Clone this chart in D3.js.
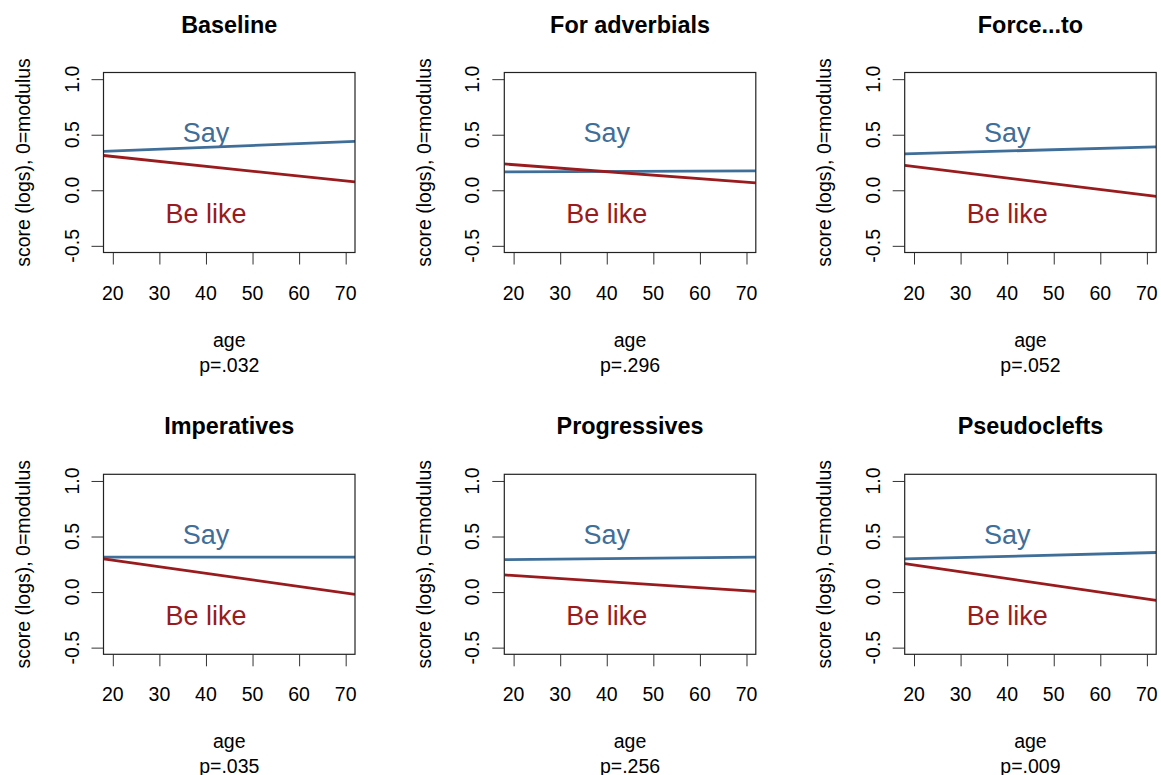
<!DOCTYPE html>
<html lang="en">
<head>
    <meta charset="UTF-8">
    <title>Say vs Be like by age</title>
    <style>
        body { margin: 0; background: #fff; }
        #chart { font-family: "Liberation Sans", Arial, sans-serif; }
    </style>
    <script src="https://d3js.org/d3.v7.min.js"></script>
</head>
<body>
    <div id="chart"></div>
    <script>
// panel data: fitted value at the left (age 18) and right (age 72) edges
const panelTitles = ["Baseline", "For adverbials", "Force...to", "Imperatives", "Progressives", "Pseudoclefts"];
const pValues = ["p=.032", "p=.296", "p=.052", "p=.035", "p=.256", "p=.009"];
const ageEnds = [18, 72];
const sayStart = [0.35, 0.165, 0.328, 0.315, 0.292, 0.298];
const sayEnd = [0.44, 0.175, 0.391, 0.315, 0.315, 0.356];
const likeStart = [0.313, 0.237, 0.224, 0.298, 0.154, 0.256];
const likeEnd = [0.075, 0.066, -0.054, -0.021, 0.006, -0.075];
const xTicks = [20, 30, 40, 50, 60, 70];
const yTicks = [-0.5, 0, 0.5, 1.0];
const yTickLabels = ["-0.5", "0.0", "0.5", "1.0"];
const seriesNames = ["Say", "Be like"];
const labelAge = 40;
const labelValues = [0.52, -0.21];

const colors = {say: "#3f6e98", like: "#991b1e"};

const W = 1161, H = 775;
const colLeft = [103.5, 504.3, 904.7];
const rowTop = [72.5, 474.3];
const pw = 251.5, ph = 180;

const svg = d3.select("#chart").append("svg")
    .attr("width", W).attr("height", H);

const x = d3.scaleLinear().domain([18, 72]).range([0, pw]);
const y = d3.scaleLinear().domain([-0.56, 1.06]).range([ph, 0]);

const line = d3.line().x(d => x(d[0])).y(d => y(d[1]));

panelTitles.forEach((title, i) => {
    const g = svg.append("g")
        .attr("transform", "translate(" + colLeft[i % 3] + "," + rowTop[Math.floor(i / 3)] + ")");

    g.append("clipPath").attr("id", "clip" + i)
        .append("rect").attr("width", pw).attr("height", ph);

    // x axis
    const xa = g.append("g")
        .attr("transform", "translate(0," + ph + ")")
        .call(d3.axisBottom(x).tickValues(xTicks).tickSize(12).tickSizeOuter(0).tickFormat(""));
    xa.select(".domain").remove();
    xa.selectAll("line").attr("stroke", "#333");

    // y axis
    const ya = g.append("g")
        .call(d3.axisLeft(y).tickValues(yTicks).tickSize(12).tickSizeOuter(0).tickFormat(""));
    ya.select(".domain").remove();
    ya.selectAll("line").attr("stroke", "#333");

    g.selectAll(".xlab").data(xTicks).enter().append("text")
        .attr("x", d => x(d)).attr("y", ph + 47)
        .attr("text-anchor", "middle")
        .style("font-size", "19.5px")
        .text(d => d);

    g.selectAll(".ylab").data(yTicks).enter().append("text")
        .attr("transform", d => "translate(-25," + y(d) + ") rotate(-90)")
        .attr("text-anchor", "middle")
        .style("font-size", "19.5px")
        .text((d, k) => yTickLabels[k]);

    // series lines
    const series = [
        {key: "say", pts: [[ageEnds[0], sayStart[i]], [ageEnds[1], sayEnd[i]]]},
        {key: "like", pts: [[ageEnds[0], likeStart[i]], [ageEnds[1], likeEnd[i]]]}
    ];
    g.append("g").attr("clip-path", "url(#clip" + i + ")")
        .selectAll("path").data(series).enter().append("path")
        .attr("d", d => line(d.pts))
        .attr("fill", "none")
        .attr("stroke", d => colors[d.key])
        .attr("stroke-width", 2.8);

    // box
    g.append("rect")
        .attr("width", pw).attr("height", ph)
        .attr("fill", "none").attr("stroke", "#222").attr("stroke-width", 1.2);

    // series labels
    seriesNames.forEach((name, k) => {
        g.append("text")
            .attr("x", x(labelAge)).attr("y", y(labelValues[k]))
            .attr("dy", "0.36em")
            .attr("text-anchor", "middle")
            .style("font-size", "27px")
            .attr("fill", k === 0 ? colors.say : colors.like)
            .text(name);
    });

    // titles
    g.append("text")
        .attr("x", pw / 2).attr("y", -40)
        .attr("text-anchor", "middle")
        .style("font-size", "23.4px").style("font-weight", "bold")
        .text(title);

    g.append("text")
        .attr("x", pw / 2).attr("y", ph + 94)
        .attr("text-anchor", "middle")
        .style("font-size", "19.5px")
        .text("age");

    g.append("text")
        .attr("x", pw / 2).attr("y", ph + 119)
        .attr("text-anchor", "middle")
        .style("font-size", "19.5px")
        .text(pValues[i]);

    g.append("text")
        .attr("transform", "translate(-73.5," + ph / 2 + ") rotate(-90)")
        .attr("text-anchor", "middle")
        .style("font-size", "19.5px")
        .text("score (logs),  0=modulus");
});
    </script>
</body>
</html>
